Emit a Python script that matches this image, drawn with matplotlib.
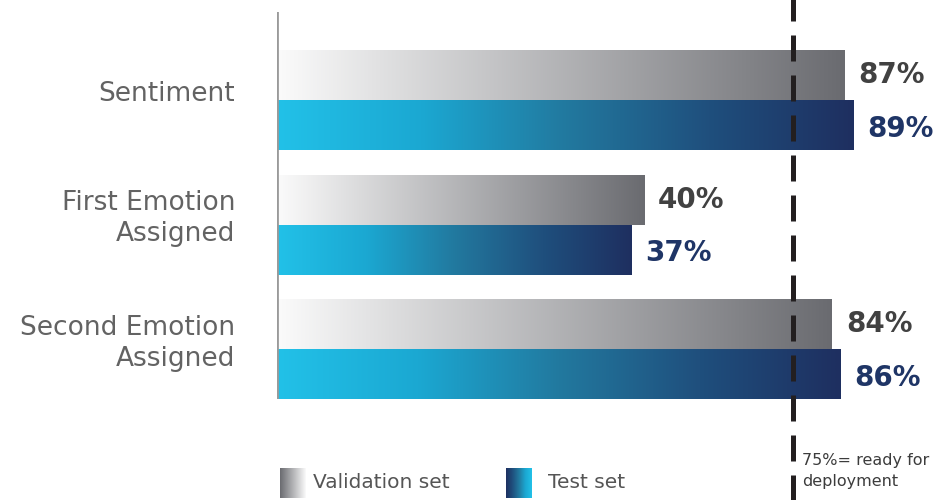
import numpy as np
import matplotlib.pyplot as plt
from matplotlib.colors import LinearSegmentedColormap
from matplotlib import transforms

plt.rcParams['font.family'] = ['DejaVu Sans']

categories = ['Sentiment', 'First Emotion\nAssigned', 'Second Emotion\nAssigned']
validation = [87, 40, 84]
test = [89, 37, 86]
threshold = 75
threshold_text = '75%= ready for\ndeployment'

# the bars in the original do not start at 0 but at this baseline
base = -46

#gradients for the two series
val_cmap = LinearSegmentedColormap.from_list('val', ['#fbfbfb', '#6a6b70'])
test_cmap = LinearSegmentedColormap.from_list(
    'test', ['#22c1e8', '#1ba8d2', '#22799f', '#1f4f7d', '#1e2f60'])

fig = plt.figure(figsize=(9.47, 5), dpi=100)
ax = fig.add_axes([277 / 947, 0.202, 1 - 277 / 947, 0.774])

y = np.arange(len(categories))
h = 0.4
grad = np.linspace(0, 1, 256).reshape(1, -1)

val_bars = ax.barh(y - h / 2, np.array(validation) - base, height=h, left=base, color='none')
test_bars = ax.barh(y + h / 2, np.array(test) - base, height=h, left=base, color='none')

for bars, cmap in [(val_bars, val_cmap), (test_bars, test_cmap)]:
    for p in bars:
        x0, x1 = p.get_x(), p.get_x() + p.get_width()
        y0, y1 = p.get_y(), p.get_y() + p.get_height()
        ax.imshow(grad, cmap=cmap, extent=[x0, x1, y1, y0], aspect='auto',
                  interpolation='bicubic', zorder=1)

ax.set_xlim(base, 111)
ax.set_ylim(2.4, -0.71)

ax.axis('off')
ax.axvline(base, color='#9a9a9a', lw=2, zorder=3)

#value labels
off = transforms.offset_copy(ax.transData, fig=fig, x=14, y=0, units='dots')
for i in range(len(categories)):
    ax.text(validation[i], y[i] - h / 2, f'{validation[i]}%', transform=off,
            ha='left', va='center', fontsize=20, fontweight='bold', color='#414141')
    ax.text(test[i], y[i] + h / 2 + 0.03, f'{test[i]}%', transform=off,
            ha='left', va='center', fontsize=20, fontweight='bold', color='#1f3566')

#category labels
lab = transforms.offset_copy(ax.transData, fig=fig, x=-42, y=6, units='dots')
for i, c in enumerate(categories):
    ax.text(base, y[i], c, transform=lab, ha='right', va='center',
            fontsize=19, color='#636363', linespacing=1.25)

#threshold line, runs the full height of the figure
ax.axvline(threshold, ymin=-0.27, ymax=1.04, clip_on=False, color='#231f20',
           lw=3.6, dashes=(5.2, 2.8), zorder=4)
tr = transforms.blended_transform_factory(
    transforms.offset_copy(ax.transData, fig=fig, x=9, y=0, units='dots'),
    fig.transFigure)
ax.text(threshold, 1 - 471 / 500, threshold_text, transform=tr, ha='left',
        va='center', fontsize=11.5, color='#3c3c3c', linespacing=1.45)

#legend
def swatch(x, cmap):
    sax = fig.add_axes([x / 947, 1 - 498 / 500, 26 / 947, 30 / 500])
    sax.imshow(grad[:, ::-1], cmap=cmap, aspect='auto')
    sax.axis('off')

swatch(280, val_cmap)
swatch(506, test_cmap)
fig.text(313 / 947, 1 - 482 / 500, 'Validation set', ha='left', va='center',
         fontsize=14.5, color='#555555')
fig.text(548 / 947, 1 - 483 / 500, 'Test set', ha='left', va='center',
         fontsize=14.5, color='#555555')

fig.savefig('out.png', dpi=100)
